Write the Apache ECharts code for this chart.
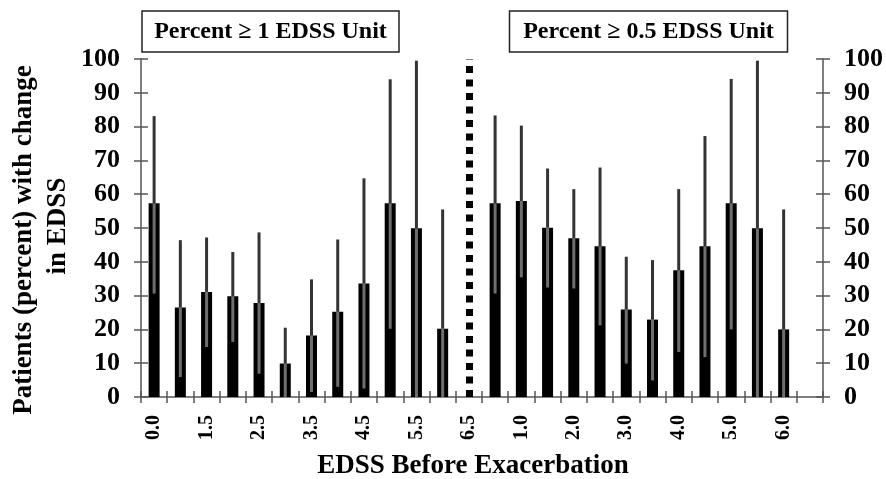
<!DOCTYPE html>
<html>
<head>
<meta charset="utf-8">
<script src="https://cdn.jsdelivr.net/npm/echarts@6/dist/echarts.min.js"></script>
<style>html,body{margin:0;padding:0;background:#fff}#c{width:886px;height:479px}</style>
</head>
<body>
<div id="c"></div>
<script>
// Categories (EDSS before exacerbation) for each panel
var leftCats = ['0.0','1.0','1.5','2.0','2.5','3.0','3.5','4.0','4.5','5.0','5.5','6.0','6.5'];
var rightCats = ['0.0','1.0','1.5','2.0','2.5','3.0','3.5','4.0','4.5','5.0','5.5','6.0','6.5'];
// Panel 1: Percent >= 1 EDSS unit
var leftPct  = [57.3, 26.5, 31.1, 29.8, 27.8, 9.9, 18.2, 25.2, 33.6, 57.3, 49.9, 20.2, null];
var leftHigh = [83.1, 46.4, 47.2, 42.9, 48.7, 20.5, 34.8, 46.6, 64.7, 94.0, 99.5, 55.5, null];
var leftLow  = [30.6, 5.9, 14.8, 16.3, 6.9, 0, 1.5, 3.0, 2.5, 20.2, 0, 0, null];
// Panel 2: Percent >= 0.5 EDSS unit
var rightPct  = [57.3, 58.0, 50.1, 47.0, 44.6, 25.9, 22.9, 37.5, 44.6, 57.3, 49.9, 20.0, null];
var rightHigh = [83.3, 80.3, 67.6, 61.5, 67.9, 41.5, 40.5, 61.5, 77.2, 94.1, 99.5, 55.5, null];
var rightLow  = [30.6, 35.4, 32.4, 32.1, 21.2, 9.9, 4.9, 13.3, 11.8, 20.0, 0, 0, null];
var yTicks = {min: 0, max: 100, interval: 10};
var panelTitles = ['Percent \u2265 1 EDSS Unit', 'Percent \u2265 0.5 EDSS Unit'];
var dividerIndex = 12;

var cats = leftCats.concat(rightCats);
var pct = leftPct.concat(rightPct);
var hi = leftHigh.concat(rightHigh);
var lo = leftLow.concat(rightLow);
var errData = [];
for (var i = 0; i < cats.length; i++) {
  if (pct[i] != null) errData.push([i, lo[i], pct[i], hi[i]]);
}

var FONT = '"Liberation Serif", "Times New Roman", serif';
var axisColor = '#555';

var chart = echarts.init(document.getElementById('c'), null, {renderer: 'canvas'});
function xAx(main) {
  return {
    type: 'category', data: cats, position: 'bottom', boundaryGap: true,
    axisLine: {show: main, lineStyle: {color: axisColor, width: 1.5}},
    axisTick: {show: true, inside: !main, length: 6, interval: 0, lineStyle: {color: axisColor, width: 1.5}},
    axisLabel: {show: main, interval: 1, rotate: 90, margin: 18, color: '#000',
      fontFamily: FONT, fontWeight: 'bold', fontSize: 20},
    splitLine: {show: false}
  };
}
function yAx(pos, main) {
  return {
    type: 'value', position: pos, min: yTicks.min, max: yTicks.max, interval: yTicks.interval,
    axisLine: {show: main, lineStyle: {color: axisColor, width: 1.5}},
    axisTick: {show: true, inside: !main, length: 7, lineStyle: {color: axisColor, width: 1.5}},
    axisLabel: {show: main, margin: 21, color: '#000', fontFamily: FONT, fontWeight: 'bold', fontSize: 26},
    splitLine: {show: false}
  };
}
var option = {
  animation: false,
  backgroundColor: '#fff',
  grid: {left: 141, right: 63, top: 59, bottom: 82},
  xAxis: [xAx(true), xAx(false)],
  yAxis: [yAx('left', true), yAx('left', false), yAx('right', true), yAx('right', false)],
  graphic: [
    {type: 'rect', shape: {x: 142, y: 11, width: 257, height: 41}, style: {fill: '#fff', stroke: '#222', lineWidth: 1.5}},
    {type: 'text', x: 270.5, y: 32, style: {text: panelTitles[0], font: 'bold 24px ' + FONT, fill: '#000', textAlign: 'center', textVerticalAlign: 'middle'}},
    {type: 'rect', shape: {x: 509.5, y: 11, width: 278, height: 41}, style: {fill: '#fff', stroke: '#222', lineWidth: 1.5}},
    {type: 'text', x: 648.5, y: 32, style: {text: panelTitles[1], font: 'bold 24px ' + FONT, fill: '#000', textAlign: 'center', textVerticalAlign: 'middle'}},
    {type: 'text', x: 24, y: 240, rotation: Math.PI / 2, style: {text: 'Patients (percent) with change', font: 'bold 27px ' + FONT, fill: '#000', textAlign: 'center', textVerticalAlign: 'middle'}},
    {type: 'text', x: 58, y: 226, rotation: Math.PI / 2, style: {text: 'in EDSS', font: 'bold 27px ' + FONT, fill: '#000', textAlign: 'center', textVerticalAlign: 'middle'}},
    {type: 'text', x: 473, y: 466, style: {text: 'EDSS Before Exacerbation', font: 'bold 27px ' + FONT, fill: '#000', textAlign: 'center', textVerticalAlign: 'middle'}}
  ],
  series: [
    {
      type: 'bar', xAxisIndex: 0, yAxisIndex: 0, data: pct, barWidth: 11,
      itemStyle: {color: '#000'},
      markLine: {
        silent: true, symbol: 'none', label: {show: false},
        lineStyle: {color: '#000', width: 7, type: [7, 6.5], opacity: 1},
        data: [{xAxis: dividerIndex}]
      }
    },
    {
      type: 'custom', xAxisIndex: 0, yAxisIndex: 0, data: errData, z: 5,
      renderItem: function (params, api) {
        var x = api.value(0);
        var pL = api.coord([x, api.value(1)]);
        var pV = api.coord([x, api.value(2)]);
        var pH = api.coord([x, api.value(3)]);
        return {
          type: 'group',
          children: [
            {type: 'line', shape: {x1: pL[0], y1: pL[1], x2: pV[0], y2: pV[1]}, style: {stroke: '#6e6e6e', lineWidth: 3}},
            {type: 'line', shape: {x1: pV[0], y1: pV[1], x2: pH[0], y2: pH[1]}, style: {stroke: '#333', lineWidth: 3}}
          ]
        };
      }
    }
  ]
};
chart.setOption(option);
</script>
</body>
</html>
